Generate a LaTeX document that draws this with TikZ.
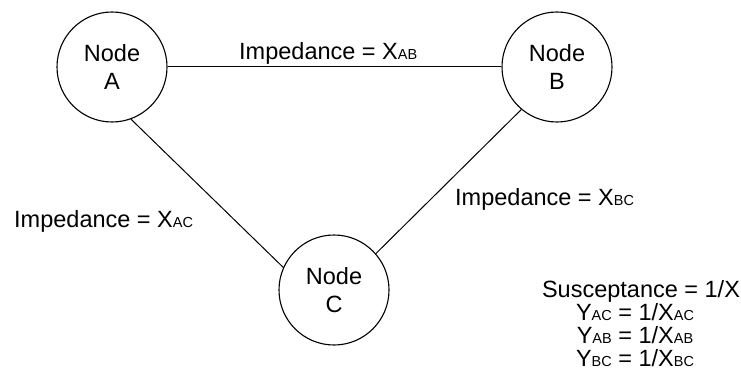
\documentclass[tikz,border=0pt]{standalone}
\usepackage{fontspec}
\setmainfont{Liberation Sans}
\newcommand\lsub[1]{{\fontsize{14.5}{14.5}\selectfont #1}}
\begin{document}
\begin{tikzpicture}[x=1pt,y=-1pt,
  bus/.style={circle,draw,line width=1.1pt,minimum size=110pt,inner sep=0pt,
    align=center,font=\fontsize{23.5}{28}\selectfont},
  link/.style={line width=1pt},
  lbl/.style={inner sep=0pt,font=\fontsize{23.5}{23}\selectfont}]
\useasboundingbox (0,0) rectangle (741,385);

% buses
\node[bus] (A) at (112,67) {Node\\A};
\node[bus] (B) at (557,67) {Node\\B};
\node[bus] (C) at (334,290) {Node\\C};

% branches
\draw[link] (A.east) -- (B.west);
\draw[link] (A.-70) -- (C.156);
\draw[link] (B.-130) -- (C.41);

% branch impedances
\node[lbl,anchor=base west] (zab) at (239,60) {Impedance = X\lsub{AB}};
\node[lbl,anchor=base west] (zac) at (14,227) {Impedance = X\lsub{AC}};
\node[lbl,anchor=base west] (zbc) at (455,205) {Impedance = X\lsub{BC}};

% susceptance definitions
\node[lbl,anchor=base] (s0) at (641,297) {Susceptance = 1/X};
\node[lbl,anchor=base] (s1) at (635,320) {Y\lsub{AC} = 1/X\lsub{AC}};
\node[lbl,anchor=base] (s2) at (635,343) {Y\lsub{AB} = 1/X\lsub{AB}};
\node[lbl,anchor=base] (s3) at (635,366) {Y\lsub{BC} = 1/X\lsub{BC}};
\end{tikzpicture}
\end{document}
